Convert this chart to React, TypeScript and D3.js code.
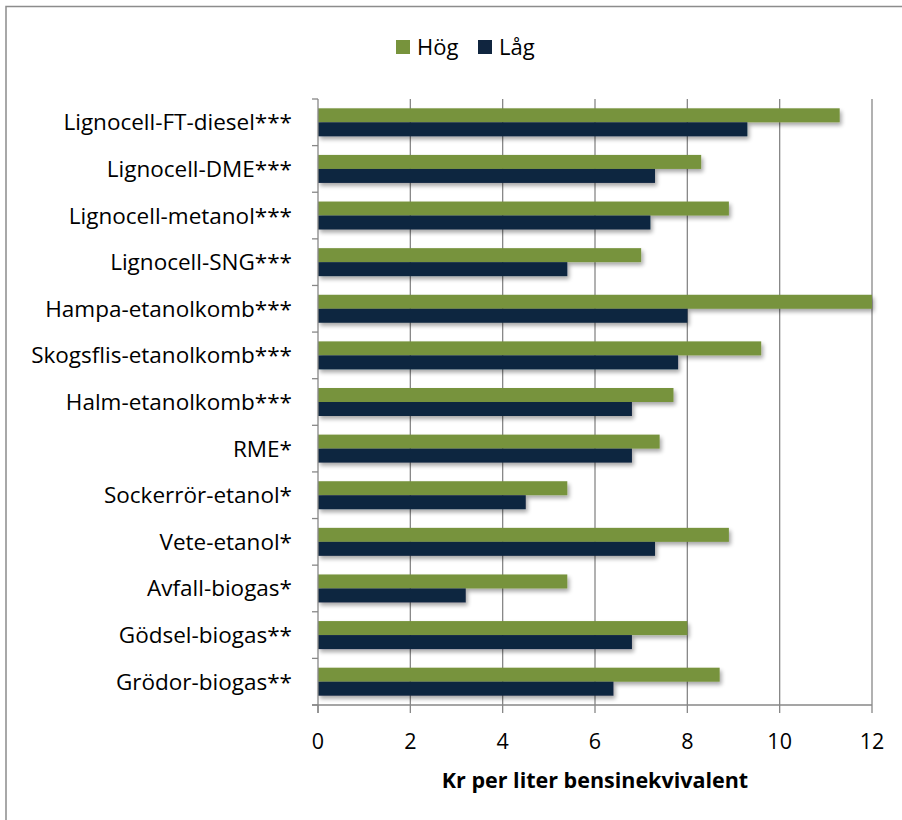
import React from "react";
import * as d3 from "d3";

const categories = [
  "Lignocell-FT-diesel***",
  "Lignocell-DME***",
  "Lignocell-metanol***",
  "Lignocell-SNG***",
  "Hampa-etanolkomb***",
  "Skogsflis-etanolkomb***",
  "Halm-etanolkomb***",
  "RME*",
  "Sockerrör-etanol*",
  "Vete-etanol*",
  "Avfall-biogas*",
  "Gödsel-biogas**",
  "Grödor-biogas**",
];
const hog = [11.3, 8.3, 8.9, 7.0, 12.0, 9.6, 7.7, 7.4, 5.4, 8.9, 5.4, 8.0, 8.7];
const lag = [9.3, 7.3, 7.2, 5.4, 8.0, 7.8, 6.8, 6.8, 4.5, 7.3, 3.2, 6.8, 6.4];
const xTicks = [0, 2, 4, 6, 8, 10, 12];
const seriesNames = ["Hög", "Låg"];
const colors = ["#77933C", "#10253F"];

const W = 902;
const H = 820;
const left = 318;
const right = 872;
const top = 99;
const bottom = 705;

export default function App() {
  const x = d3.scaleLinear().domain([0, 12]).range([left, right]);
  const y = d3.scaleBand<string>().domain(categories).range([top, bottom]);
  const bw = y.bandwidth();
  const barH = 14;
  const offset = (bw - 2 * barH) / 2;
  const font = "'Open Sans', sans-serif";
  return (
    <svg width={W} height={H} style={{ position: "absolute", left: 0, top: 0 }}>
      <defs>
        <filter id="sh" x="-5%" y="-50%" width="115%" height="250%">
          <feGaussianBlur in="SourceAlpha" stdDeviation="2" />
          <feOffset dx="2" dy="3" result="b" />
          <feComponentTransfer>
            <feFuncA type="linear" slope="0.35" />
          </feComponentTransfer>
          <feMerge>
            <feMergeNode />
            <feMergeNode in="SourceGraphic" />
          </feMerge>
        </filter>
      </defs>
      <rect x={0} y={0} width={W} height={H} fill="#fff" />
      <rect x={6} y={6.5} width={W + 20} height={H + 20} fill="none" stroke="#8c8c8c" strokeWidth={1.5} />
      {xTicks.filter((t) => t > 0).map((t) => (
        <line key={t} x1={x(t)} x2={x(t)} y1={top} y2={bottom} stroke="#878787" strokeWidth={1.3} />
      ))}
      {categories.map((c, i) => (
        <g key={c} filter="url(#sh)">
          <rect x={x(0)} y={(y(c) as number) + offset} width={x(hog[i]) - x(0)} height={barH} fill={colors[0]} />
          <rect x={x(0)} y={(y(c) as number) + offset + barH} width={x(lag[i]) - x(0)} height={barH} fill={colors[1]} />
        </g>
      ))}
      <line x1={left} x2={left} y1={top} y2={bottom + 8} stroke="#878787" strokeWidth={1.3} />
      {d3.range(categories.length + 1).map((k) => {
        const yy = top + k * bw;
        return <line key={k} x1={left - 6} x2={left} y1={yy} y2={yy} stroke="#878787" strokeWidth={1.3} />;
      })}
      <line x1={left - 6} x2={right} y1={bottom} y2={bottom} stroke="#878787" strokeWidth={1.3} />
      {xTicks.map((t) => (
        <g key={t}>
          <line x1={x(t)} x2={x(t)} y1={bottom} y2={bottom + 8} stroke="#878787" strokeWidth={1.3} />
          <text x={x(t)} y={749} textAnchor="middle" fontFamily={font} fontSize={21.5} fill="#000">
            {t}
          </text>
        </g>
      ))}
      {categories.map((c) => (
        <text key={c} x={292} y={(y(c) as number) + bw / 2 + 8} textAnchor="end" fontFamily={font} fontSize={22.5} fill="#000">
          {c}
        </text>
      ))}
      <text x={(left + right) / 2} y={788} textAnchor="middle" fontFamily={font} fontSize={21.5} fontWeight="bold" fill="#000">
        Kr per liter bensinekvivalent
      </text>
      {seriesNames.map((s, i) => {
        const lx = [396, 478][i];
        return (
          <g key={s}>
            <rect x={lx} y={40} width={14} height={14} fill={colors[i]} />
            <text x={lx + 21} y={55} fontFamily={font} fontSize={22} fill="#000">
              {s}
            </text>
          </g>
        );
      })}
    </svg>
  );
}
